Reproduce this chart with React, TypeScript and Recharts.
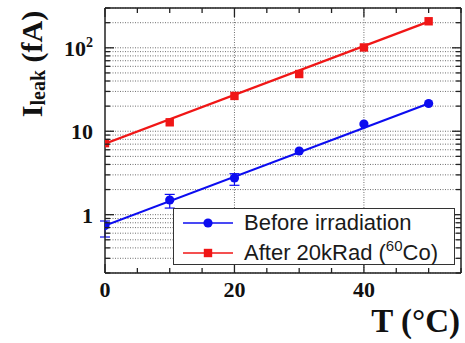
import React from 'react';
import { ComposedChart, Line, XAxis, YAxis, CartesianGrid, ReferenceLine, ErrorBar, Legend } from 'recharts';

const BLUE = '#0c0cf0';
const RED = '#f01616';
const AXIS = '#222';
const GRID = '#6e6e6e';

const temperatures = [0, 10, 20, 30, 40, 50];
const beforeIrr = [0.74, 1.5, 2.75, 5.8, 12.2, 21.5];
const beforeErrLow: (number | null)[] = [0.2, 0.3, 0.5, null, null, null];
const beforeErrHigh: (number | null)[] = [0.1, 0.25, 0.35, null, null, null];
const after20k = [7.2, 12.8, 26.5, 48.5, 101, 208];

const fitT = [0, 50];
const beforeFit = [0.74, 21.5];
const afterFit = [7.1, 206];

const xTicks = [0, 5, 10, 15, 20, 25, 30, 35, 40, 45, 50, 55];
const xLabels = [0, 20, 40];
const xGrid = [20, 40];
const yTicks = [
  0.2, 0.3, 0.4, 0.5, 0.6, 0.7, 0.8, 0.9,
  1, 2, 3, 4, 5, 6, 7, 8, 9,
  10, 20, 30, 40, 50, 60, 70, 80, 90,
  100, 200, 300,
];
const yLabels = [1, 10, 100];

const seriesNames = ['Before irradiation', 'After 20kRad ('];

const data = temperatures.map((t, i) => ({
  t,
  before: beforeIrr[i],
  after: after20k[i],
  errB: beforeErrLow[i] == null ? null : [beforeErrLow[i], beforeErrHigh[i]],
}));

const fitData = fitT.map((t, i) => ({ t, beforeFit: beforeFit[i], afterFit: afterFit[i] }));

const SERIF = '"Liberation Serif", "Times New Roman", serif';
const SANS = '"Liberation Sans", Arial, sans-serif';

const LeftYTick = (props: any) => {
  const { x, y, payload } = props;
  const v = payload.value;
  const major = yLabels.includes(v);
  const len = major ? 9 : 5;
  return (
    <g>
      <line x1={x} x2={x + len} y1={y} y2={y} stroke={AXIS} strokeWidth={1.3} />
      {major && (
        <text x={x - 12} y={y + 8} textAnchor="end" fontFamily={SERIF} fontWeight="bold" fontSize={22} fill="#111">
          {v === 100 ? (
            <>
              10<tspan dy={-9} fontSize={14}>2</tspan>
            </>
          ) : (
            String(v)
          )}
        </text>
      )}
    </g>
  );
};

const RightYTick = (props: any) => {
  const { x, y, payload } = props;
  const major = yLabels.includes(payload.value);
  const len = major ? 9 : 5;
  return <line x1={x} x2={x - len} y1={y} y2={y} stroke={AXIS} strokeWidth={1.3} />;
};

const BottomXTick = (props: any) => {
  const { x, y, payload } = props;
  const major = xLabels.includes(payload.value);
  const len = major ? 9 : 5;
  return (
    <g>
      <line x1={x} x2={x} y1={y} y2={y - len} stroke={AXIS} strokeWidth={1.3} />
      {major && (
        <text x={x} y={y + 24} textAnchor="middle" fontFamily={SERIF} fontWeight="bold" fontSize={22} fill="#111">
          {String(payload.value)}
        </text>
      )}
    </g>
  );
};

const TopXTick = (props: any) => {
  const { x, y, payload } = props;
  const major = xLabels.includes(payload.value);
  const len = major ? 9 : 5;
  return <line x1={x} x2={x} y1={y} y2={y + len} stroke={AXIS} strokeWidth={1.3} />;
};

const BlueDot = (props: any) => {
  const { cx, cy } = props;
  if (cx == null || cy == null) return null;
  return <circle cx={cx} cy={cy} r={4.6} fill={BLUE} stroke="none" />;
};

const RedDot = (props: any) => {
  const { cx, cy } = props;
  if (cx == null || cy == null) return null;
  return <rect x={cx - 4.2} y={cy - 4.2} width={8.4} height={8.4} fill={RED} stroke="none" />;
};

const XLabel = (p: any) => {
  const vb = p.viewBox;
  return (
    <text x={vb.x + vb.width - 1} y={vb.y + 59} textAnchor="end" fontFamily={SERIF} fontWeight="bold" fontSize={33} fill="#111">
      T (°C)
    </text>
  );
};

const YLabel = (p: any) => {
  const vb = p.viewBox;
  return (
    <text
      transform={`translate(${vb.x + 42}, ${vb.y + 56}) rotate(-90)`}
      textAnchor="middle"
      fontFamily={SERIF}
      fontWeight="bold"
      fontSize={30}
      fill="#111"
    >
      I<tspan fontSize={20} dy={3}>leak</tspan>
      <tspan dy={-3}> (fA)</tspan>
    </text>
  );
};

const LegendBox = () => (
  <div
    style={{
      boxSizing: 'border-box',
      width: 282,
      height: 57,
      border: '1.3px solid #333',
      background: '#fff',
      fontFamily: SANS,
      fontSize: 22,
      color: '#1a1a1a',
      position: 'relative',
    }}
  >
    {[0, 1].map((i) => (
      <div key={i} style={{ position: 'absolute', left: 0, top: i === 0 ? 0 : 30, height: 28, width: 280 }}>
        <svg width={60} height={28} style={{ position: 'absolute', left: 9, top: 0 }}>
          <line x1={0} x2={50} y1={14} y2={14} stroke={i === 0 ? BLUE : RED} strokeWidth={1.3} />
          {i === 0 ? (
            <circle cx={25} cy={14} r={4.6} fill={BLUE} />
          ) : (
            <rect x={20.8} y={9.8} width={8.4} height={8.4} fill={RED} />
          )}
        </svg>
        <span style={{ position: 'absolute', left: 70, top: 0, lineHeight: '27px', whiteSpace: 'nowrap' }}>
          {seriesNames[i]}
          {i === 1 && (
            <>
              <span style={{ fontSize: 15, position: 'relative', top: -9 }}>60</span>Co)
            </>
          )}
        </span>
      </div>
    ))}
  </div>
);

export default function App() {
  return (
    <div style={{ position: 'absolute', left: 0, top: 0, width: 465, height: 343, background: '#fff' }}>
      <ComposedChart width={465} height={343} data={data} margin={{ top: 0, right: 0, bottom: 0, left: 0 }}>
        <CartesianGrid vertical={false} stroke={GRID} strokeDasharray="1 1.5" strokeWidth={1} />
        {xGrid.map((g) => (
          <ReferenceLine key={g} x={g} stroke={GRID} strokeDasharray="1 1.5" strokeWidth={1} />
        ))}
        <XAxis
          dataKey="t"
          type="number"
          domain={[0, 55]}
          ticks={xTicks}
          interval={0}
          height={70}
          allowDataOverflow
          axisLine={{ stroke: AXIS, strokeWidth: 1.5 }}
          tickLine={false}
          tickSize={0}
          tickMargin={0}
          tick={<BottomXTick />}
          label={{ content: <XLabel /> }}
        />
        <XAxis
          xAxisId="top"
          orientation="top"
          dataKey="t"
          type="number"
          domain={[0, 55]}
          ticks={xTicks}
          interval={0}
          height={8}
          allowDataOverflow
          axisLine={{ stroke: AXIS, strokeWidth: 1.5 }}
          tickLine={false}
          tickSize={0}
          tickMargin={0}
          tick={<TopXTick />}
        />
        <YAxis
          type="number"
          scale="log"
          domain={[0.2, 300]}
          ticks={yTicks}
          interval={0}
          width={105}
          allowDataOverflow
          axisLine={{ stroke: AXIS, strokeWidth: 1.5 }}
          tickLine={false}
          tickSize={0}
          tickMargin={0}
          tick={<LeftYTick />}
          label={{ content: <YLabel /> }}
        />
        <YAxis
          yAxisId="right"
          orientation="right"
          type="number"
          scale="log"
          domain={[0.2, 300]}
          ticks={yTicks}
          interval={0}
          width={4}
          allowDataOverflow
          axisLine={{ stroke: AXIS, strokeWidth: 1.5 }}
          tickLine={false}
          tickSize={0}
          tickMargin={0}
          tick={<RightYTick />}
        />
        <Line
          xAxisId="top"
          yAxisId="right"
          dataKey="after"
          stroke="none"
          dot={false}
          activeDot={false}
          legendType="none"
          isAnimationActive={false}
        />
        <Line
          data={fitData}
          dataKey="beforeFit"
          stroke={BLUE}
          strokeWidth={2.2}
          dot={false}
          activeDot={false}
          legendType="none"
          isAnimationActive={false}
        />
        <Line
          data={fitData}
          dataKey="afterFit"
          stroke={RED}
          strokeWidth={2.2}
          dot={false}
          activeDot={false}
          legendType="none"
          isAnimationActive={false}
        />
        <Line
          dataKey="before"
          name="Before irradiation"
          stroke="none"
          dot={<BlueDot />}
          activeDot={false}
          isAnimationActive={false}
        >
          <ErrorBar dataKey="errB" direction="y" width={5} stroke={BLUE} strokeWidth={1.2} />
        </Line>
        <Line
          dataKey="after"
          name="After 20kRad"
          stroke="none"
          dot={<RedDot />}
          activeDot={false}
          isAnimationActive={false}
        />
        <Legend
          layout="horizontal"
          verticalAlign="middle"
          align="center"
          content={<LegendBox />}
          wrapperStyle={{ position: 'absolute', left: 173, top: 208, width: 282, height: 57 }}
        />
      </ComposedChart>
    </div>
  );
}
